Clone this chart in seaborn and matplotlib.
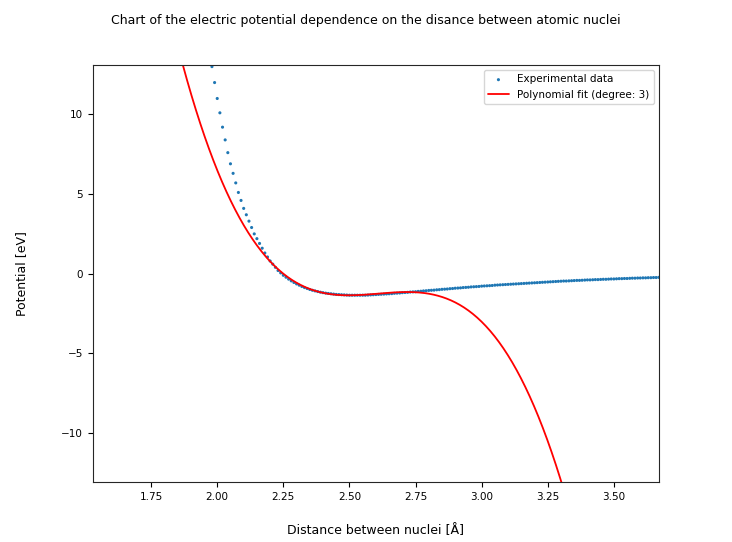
import numpy as np
import matplotlib
matplotlib.use('Agg')
import matplotlib.pyplot as plt
import seaborn as sns

# experimental data, step 0.01 A starting at 1.98
x_start = 1.98
potential = [
    13.0, 12.0, 11.0, 10.1, 9.2, 8.4, 7.6, 6.9, 6.3, 5.7,
    5.1, 4.6, 4.1, 3.7, 3.3, 2.9, 2.5, 2.2, 1.9, 1.6,
    1.3, 1.05, 0.8, 0.6, 0.4, 0.2, 0.05, -0.1, -0.22, -0.34,
    -0.45, -0.55, -0.64, -0.72, -0.8, -0.87, -0.93, -0.99, -1.04, -1.08,
    -1.12, -1.16, -1.19, -1.22, -1.24, -1.26, -1.28, -1.3, -1.31, -1.32,
    -1.33, -1.34, -1.35, -1.35, -1.35, -1.35, -1.35, -1.35, -1.35,
    -1.34, -1.33, -1.32, -1.31, -1.30, -1.29, -1.28, -1.27, -1.26, -1.25,
    -1.23, -1.22, -1.21, -1.19, -1.18, -1.17, -1.15, -1.14, -1.13, -1.11,
    -1.10, -1.08, -1.07, -1.05, -1.04, -1.03, -1.01, -1.00, -0.98, -0.97,
    -0.96, -0.94, -0.93, -0.91, -0.90, -0.89, -0.87, -0.86, -0.85, -0.83,
    -0.82, -0.81, -0.80, -0.78, -0.77, -0.76, -0.75, -0.74, -0.72, -0.71,
    -0.70, -0.69, -0.68, -0.67, -0.66, -0.65, -0.64, -0.63, -0.62, -0.61,
    -0.60, -0.59, -0.58, -0.57, -0.56, -0.55, -0.54, -0.53, -0.52, -0.51,
    -0.50, -0.49, -0.48, -0.47, -0.46, -0.46, -0.45, -0.44, -0.43, -0.42,
    -0.42, -0.41, -0.40, -0.39, -0.39, -0.38, -0.37, -0.37, -0.36, -0.35,
    -0.35, -0.34, -0.33, -0.33, -0.32, -0.31, -0.31, -0.30, -0.30, -0.29,
    -0.28, -0.28, -0.27, -0.27, -0.26, -0.26, -0.25, -0.25, -0.24, -0.24, -0.23,
]
distance = np.round(x_start + 0.01 * np.arange(len(potential)), 2)

# points, used to get the cubic coefficients
fit_x = [1.87, 2.25, 2.52, 3.30]
fit_y = [13.1, 0.0, -1.35, -13.0]

sns.set_style('ticks')
plt.rcParams['text.color'] = 'black'
plt.rcParams['axes.labelcolor'] = 'black'
plt.rcParams['xtick.color'] = 'black'
plt.rcParams['ytick.color'] = 'black'

fig, ax = plt.subplots(figsize=(7.32, 5.42), dpi=100)
fig.subplots_adjust(left=0.127, right=0.9, top=0.88, bottom=0.11)

sns.scatterplot(x=distance, y=potential, s=5, color='tab:blue', edgecolor='none',
                label='Experimental data', ax=ax)

coeffs = np.polyfit(fit_x, fit_y, 3)
xs = np.linspace(1.5, 3.7, 400)
sns.lineplot(x=xs, y=np.polyval(coeffs, xs), color='red', linewidth=1.3,
             label='Polynomial fit (degree: 3)', ax=ax)

ax.set_xlim(1.53, 3.67)
ax.set_ylim(-13.1, 13.1)
ax.set_xticks([1.75, 2.0, 2.25, 2.5, 2.75, 3.0, 3.25, 3.5])
ax.set_yticks([-10, -5, 0, 5, 10])
ax.tick_params(labelsize=7.5)
ax.set_xlabel('Distance between nuclei [Å]', labelpad=16, fontsize=9)
ax.set_ylabel('Potential [eV]', labelpad=24, fontsize=9)
fig.suptitle('Chart of the electric potential dependence on the disance between atomic nuclei',
             fontsize=9, y=0.975)
ax.legend(loc='upper right', fontsize=7.5)

fig.savefig('out.png', dpi=100)
